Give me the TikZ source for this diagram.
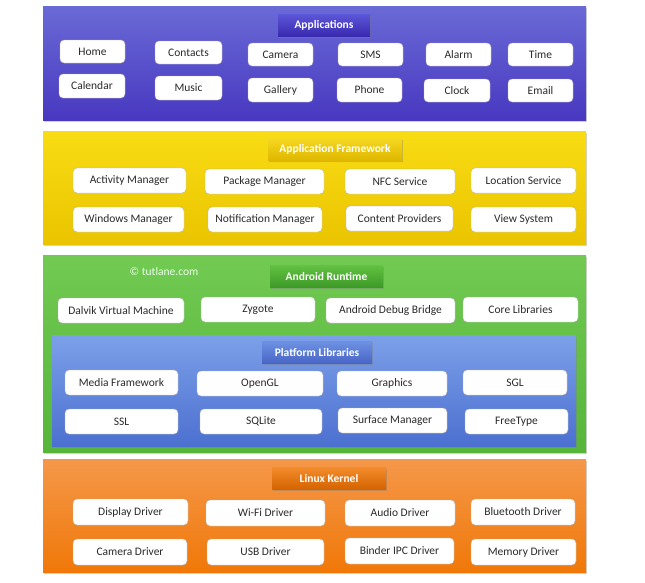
\documentclass[tikz,border=0pt]{standalone}
\usepackage{fontspec}
\setmainfont{Carlito}
\usetikzlibrary{shadows}
\definecolor{txt}{HTML}{2A2A2A}
\definecolor{appT}{HTML}{6A6AD6}\definecolor{appB}{HTML}{4838C0}
\definecolor{appTT}{HTML}{5C56D8}\definecolor{appTB}{HTML}{3A2AB0}
\definecolor{fwT}{HTML}{F8DC14}\definecolor{fwB}{HTML}{EAC400}
\definecolor{fwTT}{HTML}{F6D820}\definecolor{fwTB}{HTML}{E0B800}
\definecolor{rtT}{HTML}{72CA52}\definecolor{rtB}{HTML}{56B53A}
\definecolor{rtTT}{HTML}{62C242}\definecolor{rtTB}{HTML}{3E9A28}
\definecolor{plT}{HTML}{7CA0E8}\definecolor{plB}{HTML}{4C70D0}
\definecolor{plTT}{HTML}{6E92E2}\definecolor{plTB}{HTML}{4866C8}
\definecolor{lkT}{HTML}{F5984A}\definecolor{lkB}{HTML}{F07808}
\definecolor{lkTT}{HTML}{F48C2C}\definecolor{lkTB}{HTML}{D46400}
\tikzset{
  layer/.style={draw=none, inner sep=0pt, drop shadow={opacity=0.35, shadow xshift=1.2pt, shadow yshift=-1.5pt}},
  item/.style={draw=gray!60, fill=white, rounded corners=4pt, text=txt, inner sep=0pt,
     font=\fontsize{11.5}{13}\selectfont},
  ttl/.style={draw=none, inner sep=0pt, text=white, font=\bfseries\fontsize{11.5}{13}\selectfont,
     drop shadow={opacity=0.4, shadow xshift=1pt, shadow yshift=-1.5pt}},
}
\newcommand{\mybox}[7][item]{%
  \node[#1, minimum width={#5-#3}, minimum height={#6-#4}] (#2) at ({(#3+#5)/2},{(#4+#6)/2}) {#7};}
\begin{document}
\begin{tikzpicture}[x=1pt,y=-1pt]
\useasboundingbox (0,0) rectangle (645,582);
\fill[white] (0,0) rectangle (645,582);
% layers
\mybox[layer, top color=appT, bottom color=appB]{Lapp}{43}{6}{586}{120}{}
\mybox[layer, top color=fwT, bottom color=fwB]{Lfw}{43}{131}{586}{244}{}
\mybox[layer, top color=rtT, bottom color=rtB]{Lrt}{43}{255}{586}{452}{}
\mybox[layer, top color=plT, bottom color=plB]{Lpl}{52}{335}{576}{446}{}
\mybox[layer, top color=lkT, bottom color=lkB]{Llk}{43}{459}{586}{572}{}
% titles
\mybox[ttl, top color=appTT, bottom color=appTB]{Tapp}{278}{14}{370}{36}{Applications}
\mybox[ttl, top color=fwTT, bottom color=fwTB]{Tfw}{268}{138}{402}{160}{Application Framework}
\mybox[ttl, top color=rtTT, bottom color=rtTB]{Trt}{270}{265}{383}{287}{Android Runtime}
\mybox[ttl, top color=plTT, bottom color=plTB]{Tpl}{262}{341}{372}{363}{Platform Libraries}
\mybox[ttl, top color=lkTT, bottom color=lkTB]{Tlk}{272}{467}{386}{489}{Linux Kernel}
% applications
\mybox{home}{60}{40}{125}{63}{Home}
\mybox{contacts}{155}{41}{222}{64}{Contacts}
\mybox{camera}{248}{43}{313}{66}{Camera}
\mybox{sms}{338}{43}{403}{66}{SMS}
\mybox{alarm}{426}{43}{491}{66}{Alarm}
\mybox{time}{508}{43}{573}{66}{Time}
\mybox{calendar}{59}{74}{125}{98}{Calendar}
\mybox{music}{155}{76}{222}{100}{Music}
\mybox{gallery}{248}{78}{313}{102}{Gallery}
\mybox{phone}{337}{78}{402}{102}{Phone}
\mybox{clock}{424}{79}{490}{102}{Clock}
\mybox{email}{508}{79}{573}{102}{Email}
% framework
\mybox{actm}{73}{168}{186}{193}{Activity Manager}
\mybox{pkgm}{205}{169}{324}{194}{Package Manager}
\mybox{nfc}{345}{169}{455}{194}{NFC Service}
\mybox{loc}{471}{168}{576}{193}{Location Service}
\mybox{winm}{73}{207}{184}{232}{Windows Manager}
\mybox{notm}{208}{207}{322}{232}{Notification Manager}
\mybox{cprov}{346}{206}{453}{231}{Content Providers}
\mybox{view}{471}{207}{576}{232}{View System}
% runtime
\node[text=white!92!green, font=\fontsize{11.5}{13}\selectfont] (wm) at (164,272) {© tutlane.com};
\mybox{dalvik}{58}{298}{184}{323}{Dalvik Virtual Machine}
\mybox{zygote}{201}{297}{315}{322}{Zygote}
\mybox{adb}{326}{298}{455}{323}{Android Debug Bridge}
\mybox{core}{463}{297}{578}{322}{Core Libraries}
% platform
\mybox{media}{65}{370}{178}{395}{Media Framework}
\mybox{opengl}{197}{371}{323}{396}{OpenGL}
\mybox{graphics}{337}{371}{447}{396}{Graphics}
\mybox{sgl}{463}{370}{567}{395}{SGL}
\mybox{ssl}{65}{409}{178}{434}{SSL}
\mybox{sqlite}{200}{409}{322}{434}{SQLite}
\mybox{surf}{338}{408}{447}{433}{Surface Manager}
\mybox{freetype}{465}{409}{568}{434}{FreeType}
% kernel
\mybox{disp}{73}{499}{188}{525}{Display Driver}
\mybox{wifi}{206}{500}{325}{526}{Wi-Fi Driver}
\mybox{audio}{345}{500}{455}{526}{Audio Driver}
\mybox{bt}{471}{499}{575}{525}{Bluetooth Driver}
\mybox{camd}{73}{539}{187}{565}{Camera Driver}
\mybox{usb}{207}{539}{324}{565}{USB Driver}
\mybox{binder}{345}{538}{454}{564}{Binder IPC Driver}
\mybox{memd}{471}{539}{576}{565}{Memory Driver}
\end{tikzpicture}
\end{document}
